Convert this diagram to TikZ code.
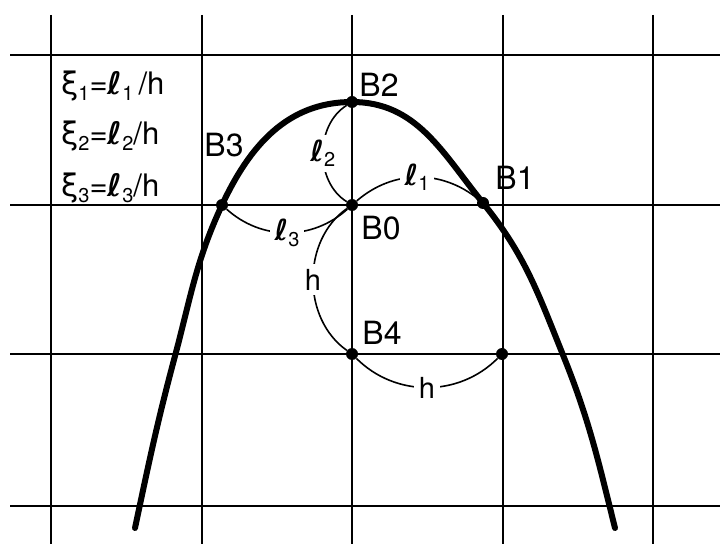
\documentclass[tikz,border=0pt]{standalone}
\usepackage{fontspec}
\setmainfont{TeX Gyre Heros}
\newfontfamily\dv{DejaVu Sans}
\newcommand\subn[1]{\raisebox{-0.35ex}{\fontsize{20}{20}\selectfont #1}}
\newcommand\myell{{\dv\bfseries ℓ}}
\begin{document}
\begin{tikzpicture}[x=1pt,y=1pt,
  gridline/.style={line width=1.8pt},
  curve/.style={line width=6pt, line cap=round, line join=round},
  arcline/.style={line width=1.6pt},
  dot/.style={circle, fill=black, inner sep=0pt, minimum size=12pt},
  lab/.style={font=\fontsize{32}{34}\selectfont, inner sep=0pt},
  arclab/.style={font=\fontsize{29}{30}\selectfont, fill=white, inner sep=5pt},
  eq/.style={font=\fontsize{31}{32}\selectfont, anchor=base west, inner sep=0pt}]
\useasboundingbox (0,0) rectangle (720,544);
% grid
\foreach \y in {489,339,190,38} \draw[gridline] (10,\y) -- (720,\y);
\foreach \x in {51,202,352,503,653} \draw[gridline] (\x,529) -- (\x,0);
% points
\node[dot] (B0) at (352,339) {};
\node[dot] (B1) at (483,341) {};
\node[dot] (B2) at (352,442) {};
\node[dot] (B3) at (222,339) {};
\node[dot] (B4) at (352,190) {};
\node[dot] (P5) at (502,190) {};
\coordinate (L0) at (135,16);
\coordinate (L1) at (175,188);
\coordinate (R1) at (563,189);
\coordinate (R0) at (615,16);
% curve
\draw[curve] (L0) to[out=78,in=-105] (L1) to[out=75,in=-115] (B3.center)
  to[out=65,in=180] (B2.center) to[out=0,in=129] (B1.center)
  to[out=-51,in=112] (R1) to[out=-68,in=104] (R0);
% arcs
\draw[arcline] (B0) to[bend left=40] node[arclab] (l1) {\myell\subn{1}} (B1);
\draw[arcline] (B0) to[bend left=58] node[arclab] (l2) {\myell\subn{2}} (B2);
\draw[arcline] (B3) to[bend right=42] node[arclab] (l3) {\myell\subn{3}} (B0);
\draw[arcline] (B4) to[bend left=55] node[arclab] (hv) {h} (B0);
\draw[arcline] (B4) to[bend right=45] node[arclab] (hh) {h} (P5);
% labels
\node[lab] (tB2) at (379,459) {B2};
\node[lab] (tB3) at (224,399) {B3};
\node[lab] (tB1) at (515,366) {B1};
\node[lab] (tB0) at (381,316) {B0};
\node[lab] (tB4) at (382,211) {B4};
% equations
\node[eq] (e1) at (61,449) {{\dv ξ}\subn{1}=\myell\subn{1}\,/h};
\node[eq] (e2) at (61,399) {{\dv ξ}\subn{2}=\myell\subn{2}/h};
\node[eq] (e3) at (61,347) {{\dv ξ}\subn{3}=\myell\subn{3}/h};
\end{tikzpicture}
\end{document}
